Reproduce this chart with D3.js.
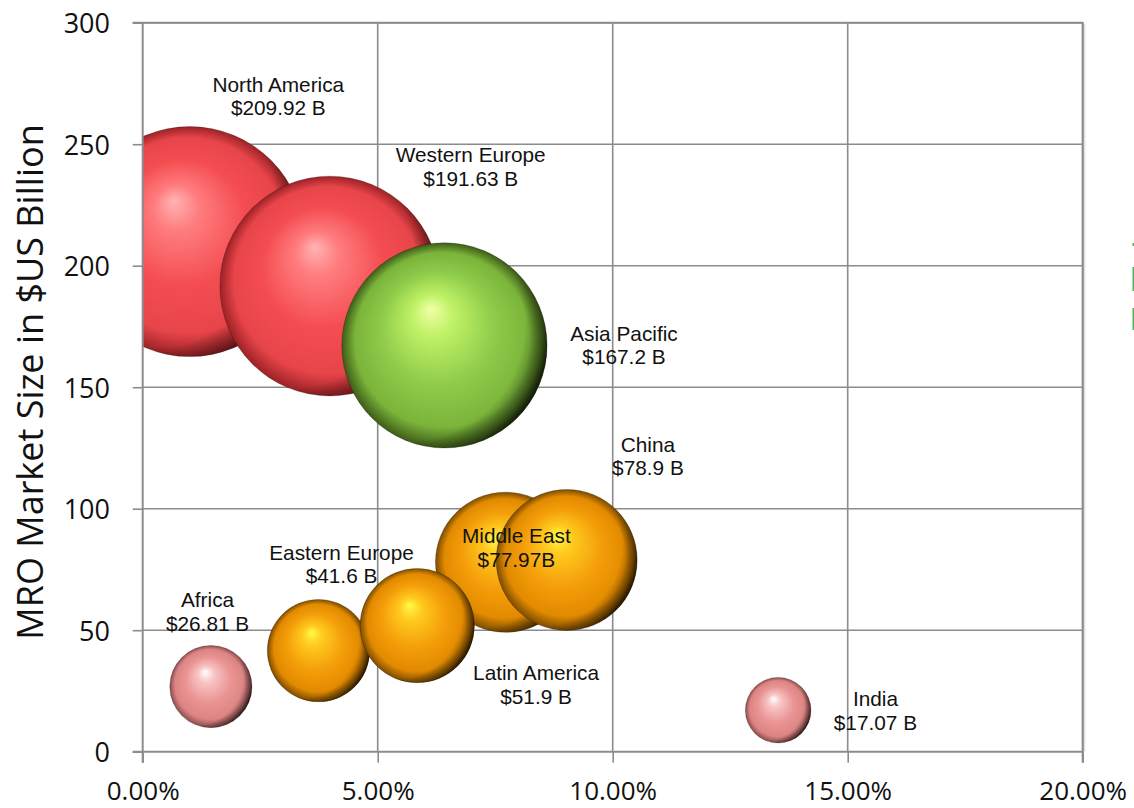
<!DOCTYPE html>
<html><head><meta charset="utf-8">
<script src="https://cdn.jsdelivr.net/npm/d3@7"></script>
<style>body{margin:0;background:#fff;} svg{display:block}</style>
</head><body>
<svg id="chart" width="1134" height="808"></svg>
<script>
// ---- data ----
const regions = ["North America","Western Europe","Asia Pacific","Middle East","China","Eastern Europe","Latin America","Africa","India"];
const growthPct = [1.0, 3.98, 6.42, 7.72, 9.02, 3.74, 5.84, 1.45, 13.52];
const marketSize = [209.92, 191.63, 167.2, 77.97, 78.9, 41.6, 51.9, 26.81, 17.07];
const valueLabels = ["$209.92 B","$191.63 B","$167.2 B","$77.97B","$78.9 B","$41.6 B","$51.9 B","$26.81 B","$17.07 B"];
const colorGroup = ["red","red","green","orange","orange","orange","orange","pink","pink"];
const xTicks = [0, 5, 10, 15, 20];
const yTicks = [0, 50, 100, 150, 200, 250, 300];
// label anchors (layout, in data units: growth %, size)
const labelAnchorX = [2.885, 6.98, 10.24, 7.95, 10.75, 4.23, 8.37, 1.38, 15.59];
const labelAnchorY = [271.6, 242.5, 169.1, 85.8, 123.5, 78.9, 29.5, 59.4, 18.8];

// ---- layout ----
const svg = d3.select("#chart");
const L = 142.7, R = 1082.7, T = 22.7, B = 751.7;
const x = d3.scaleLinear().domain([0, 20]).range([L, R]);
const y = d3.scaleLinear().domain([0, 300]).range([B, T]);
const r = d3.scaleSqrt().domain([0, 209.92]).range([0, 115]);
const gridColor = "#8c8c8c";

const palettes = {
  red:    ["#ffb4b4", "#ff7c7e", "#f44d51", "#e7454a", "#9c2226"],
  green:  ["#f2ffa8", "#c0f266", "#8fcc4a", "#7ab43a", "#3e5c18"],
  orange: ["#fffa48", "#ffca1e", "#f49e0a", "#e28a00", "#7c4c00"],
  pink:   ["#ffffff", "#f8c4c4", "#ea9494", "#dc8484", "#8c4c4c"]
};
const defs = svg.append("defs");
Object.entries(palettes).forEach(([k, c]) => {
  const g = defs.append("radialGradient").attr("id", "g-" + k)
    .attr("cx", 0.5).attr("cy", 0.5).attr("r", 0.5).attr("fx", 0.43).attr("fy", 0.32);
  [[0, c[0]], [0.2, c[1]], [0.55, c[2]], [0.85, c[3]], [1, c[4]]].forEach(([o, col]) =>
    g.append("stop").attr("offset", o).attr("stop-color", col));
});
const sh = defs.append("radialGradient").attr("id", "shade")
  .attr("cx", 0.33).attr("cy", 0.4).attr("r", 0.7);
[[0, 0], [0.8, 0], [0.93, 0.35], [1, 0.75]].forEach(([o, a]) =>
  sh.append("stop").attr("offset", o).attr("stop-color", "#000").attr("stop-opacity", a));
defs.append("clipPath").attr("id", "plotclip").append("rect")
  .attr("x", L).attr("y", T).attr("width", R - L).attr("height", B - T);

// gridlines
svg.append("g").selectAll("line.h").data(yTicks.filter(d => d > 0)).join("line")
  .attr("x1", L).attr("x2", R).attr("y1", d => y(d)).attr("y2", d => y(d))
  .attr("stroke", gridColor).attr("stroke-width", 1.6);
svg.append("g").selectAll("line.v").data(xTicks.filter(d => d > 0)).join("line")
  .attr("y1", T).attr("y2", B).attr("x1", d => x(d)).attr("x2", d => x(d))
  .attr("stroke", gridColor).attr("stroke-width", 1.6);
svg.append("line").attr("x1", R + 2).attr("x2", R + 2).attr("y1", T + 1).attr("y2", B)
  .attr("stroke", "#e4e4e4").attr("stroke-width", 1.5);

// bubbles
const idx = d3.range(regions.length);
const bub = svg.append("g").attr("clip-path", "url(#plotclip)");
idx.forEach(i => {
  const cx = x(growthPct[i]), cy = y(marketSize[i]), rr = r(marketSize[i]);
  bub.append("circle").attr("cx", cx).attr("cy", cy).attr("r", rr)
    .attr("fill", "url(#g-" + colorGroup[i] + ")")
    .attr("stroke", "rgba(0,0,0,0.28)").attr("stroke-width", 0.8);
  bub.append("circle").attr("cx", cx).attr("cy", cy).attr("r", rr)
    .attr("fill", "url(#shade)");
});

// axes
const font = "'Open Sans', 'Noto Sans', sans-serif";
const yAxis = svg.append("g").attr("transform", `translate(${L},0)`)
  .call(d3.axisLeft(y).tickValues(yTicks).tickSize(10).tickSizeOuter(0).tickFormat(d3.format("d")));
yAxis.select(".domain").remove();
yAxis.selectAll(".tick line").attr("stroke", gridColor).attr("stroke-width", 1.6);
yAxis.selectAll(".tick text").attr("x", -32.7).attr("dy", "0").attr("y", 10)
  .attr("font-family", font).attr("font-size", 27).attr("fill", "#111");

const xAxis = svg.append("g").attr("transform", `translate(0,${B})`)
  .call(d3.axisBottom(x).tickValues(xTicks).tickSize(11).tickSizeOuter(0)
    .tickFormat(d => d3.format(".2%")(d / 100)));
xAxis.select(".domain").remove();
xAxis.selectAll(".tick line").attr("stroke", gridColor).attr("stroke-width", 1.6);
xAxis.selectAll(".tick text").attr("y", 48.5).attr("dy", "0")
  .attr("font-family", font).attr("font-size", 26).attr("fill", "#111");

// axis lines
svg.append("line").attr("x1", L).attr("x2", L).attr("y1", T).attr("y2", B + 11)
  .attr("stroke", gridColor).attr("stroke-width", 2);
svg.append("line").attr("x1", L - 10).attr("x2", R).attr("y1", B).attr("y2", B)
  .attr("stroke", gridColor).attr("stroke-width", 2);
svg.append("line").attr("x1", L - 10).attr("x2", R + 0.8).attr("y1", T).attr("y2", T)
  .attr("stroke", gridColor).attr("stroke-width", 2);
svg.append("line").attr("x1", R).attr("x2", R).attr("y1", T).attr("y2", B + 11)
  .attr("stroke", gridColor).attr("stroke-width", 2);

// y axis title
svg.append("text").attr("transform", "translate(43,382) rotate(-90)")
  .attr("text-anchor", "middle").attr("font-family", font).attr("font-size", 36)
  .attr("fill", "#111").text("MRO Market Size in $US Billion");

// data labels
const lab = svg.append("g").attr("font-family", "'Liberation Sans', Arial, sans-serif")
  .attr("font-size", 20.8).attr("fill", "#111").attr("text-anchor", "middle");
idx.forEach(i => {
  const t = lab.append("text").attr("x", x(labelAnchorX[i])).attr("y", y(labelAnchorY[i]));
  t.append("tspan").attr("x", x(labelAnchorX[i])).text(regions[i]);
  t.append("tspan").attr("x", x(labelAnchorX[i])).attr("dy", 23.5).text(valueLabels[i]);
});

// legend fragment at cut-off right edge
[[243, 3], [267, 24], [308, 22]].forEach(([yy, h]) =>
  svg.append("rect").attr("x", 1132.5).attr("y", yy).attr("width", 1.5).attr("height", h).attr("fill", "#4cb45a"));
</script>
</body></html>
